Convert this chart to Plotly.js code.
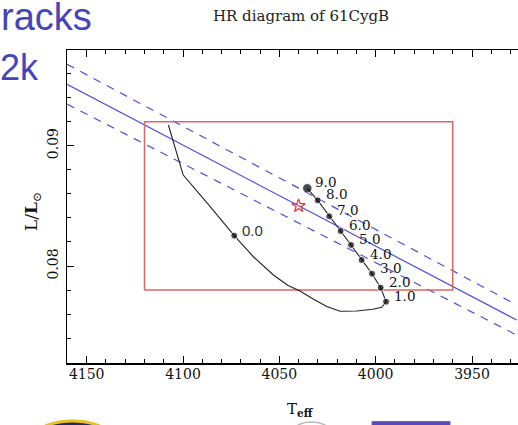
<!DOCTYPE html>
<html>
<head>
<meta charset="utf-8">
<script src="https://cdn.plot.ly/plotly-3.0.1.min.js"></script>
<style>html,body{margin:0;padding:0;background:#fff;overflow:hidden}#chart{width:518px;height:425px}</style>
</head>
<body>
<div id="chart"></div>
<script>
// ---- data ----
var trackT = [4107.6, 4099.9, 4087.0, 4073.4, 4063.5, 4053.1, 4045.5, 4039.3, 4032.4, 4025.4, 4018.5, 4009.9, 4001.4, 3996.9, 3994.6,
              3997.4, 4001.9, 4007.3, 4012.8, 4018.2, 4024.1, 4030.1, 4035.5];
var trackL = [0.09172, 0.08756, 0.08515, 0.08252, 0.08077, 0.07925, 0.07838, 0.07792, 0.07726, 0.07663, 0.07624, 0.07626, 0.07640, 0.07657, 0.07703,
              0.07820, 0.07936, 0.08050, 0.08175, 0.08291, 0.08413, 0.08546, 0.08646];
var ageLabels = ["0.0", "1.0", "2.0", "3.0", "4.0", "5.0", "6.0", "7.0", "8.0", "9.0"];
var ageT = [4073.4, 3994.6, 3997.4, 4001.9, 4007.3, 4012.8, 4018.2, 4024.1, 4030.1, 4035.5];
var ageL = [0.08252, 0.07703, 0.07820, 0.07936, 0.08050, 0.08175, 0.08291, 0.08413, 0.08546, 0.08646];
var starT = [4040];
var starL = [0.085];
var boxT = [4120, 3960];
var boxL = [0.078, 0.092];
var lineT = [4160.2, 3926.8];
var radiusL = [0.09510, 0.07551];
var radiusUpperL = [0.09677, 0.07676];
var radiusLowerL = [0.09346, 0.07426];
var xTicks = [4150, 4100, 4050, 4000, 3950];
var yTicks = [0.08, 0.09];
var titleText = "HR diagram of 61CygB";
var slideLines = ["racks", "2k"];

// ---- helpers (pixel -> paper) ----
var L0 = 67, W = 451, T0 = 50, H = 313;
function px(p){ return (p - L0) / W; }
function py(p){ return (T0 + H - p) / H; }

var blue = '#4f4fdc';
var traces = [
  {x: lineT, y: radiusUpperL, mode: 'lines', line: {color: blue, width: 1.2, dash: '8px,7px'}, hoverinfo: 'skip'},
  {x: lineT, y: radiusL, mode: 'lines', line: {color: blue, width: 1.2}, hoverinfo: 'skip'},
  {x: lineT, y: radiusLowerL, mode: 'lines', line: {color: blue, width: 1.2, dash: '8px,7px'}, hoverinfo: 'skip'},
  {x: [boxT[0], boxT[1], boxT[1], boxT[0], boxT[0]], y: [boxL[0], boxL[0], boxL[1], boxL[1], boxL[0]],
   mode: 'lines', line: {color: '#e06464', width: 1.5}, hoverinfo: 'skip'},
  {x: trackT, y: trackL, mode: 'lines', line: {color: '#222', width: 1.1}, hoverinfo: 'skip'},
  {x: ageT, y: ageL, mode: 'markers',
   marker: {color: '#000', size: ageLabels.map(function(a){ return a === '9.0' ? 9.5 : 7; })}, hoverinfo: 'skip'},
  {x: starT, y: starL, mode: 'markers', marker: {symbol: 'star-open', color: '#ff2a2a', size: 10, line: {width: 1.2}}, hoverinfo: 'skip'}
];

var annotations = ageLabels.map(function(a, i){
  var isZero = a === '0.0';
  return {x: ageT[i], y: ageL[i], xref: 'x', yref: 'y', text: a, showarrow: false,
    xanchor: 'left', yanchor: 'middle', xshift: 7, yshift: isZero ? 5 : 6, borderpad: 0,
    font: isZero ? {family: 'Liberation Sans, Arial, sans-serif', size: 15, color: '#333'}
                 : {family: 'DejaVu Serif, serif', size: 13.5, color: '#111'}};
});
annotations.push({xref: 'paper', yref: 'paper', x: px(300), y: py(409), text: 'T<sub><b>eff</b></sub>',
  showarrow: false, xanchor: 'center', yanchor: 'middle', font: {family: 'DejaVu Serif, serif', size: 15, color: '#111'}});
annotations.push({xref: 'paper', yref: 'paper', x: px(32), y: py(212), text: 'L/<b>L</b><sub>⊙</sub>', textangle: -90,
  showarrow: false, xanchor: 'center', yanchor: 'middle', font: {family: 'DejaVu Serif, serif', size: 17, color: '#111'}});
annotations.push({xref: 'paper', yref: 'paper', x: px(93), y: py(17), text: slideLines[0], borderpad: 0,
  showarrow: false, xanchor: 'right', yanchor: 'middle', font: {family: 'Liberation Sans, Arial, sans-serif', size: 38, color: '#4444bb'}});
annotations.push({xref: 'paper', yref: 'paper', x: px(40), y: py(68), text: slideLines[1], borderpad: 0,
  showarrow: false, xanchor: 'right', yanchor: 'middle', font: {family: 'Liberation Sans, Arial, sans-serif', size: 36, color: '#4444bb'}});

var shapes = [
  {type: 'circle', xref: 'paper', yref: 'paper', x0: px(37), x1: px(108), y0: py(450), y1: py(421),
   fillcolor: '#1c2a6e', line: {color: '#e8c020', width: 3}},
  {type: 'circle', xref: 'paper', yref: 'paper', x0: px(290), x1: px(333), y0: py(450), y1: py(422),
   fillcolor: '#ffffff', line: {color: '#bbbbbb', width: 1.5}},
  {type: 'rect', xref: 'paper', yref: 'paper', x0: px(372), x1: px(450), y0: py(440), y1: py(421.5),
   fillcolor: '#5a48b8', line: {color: '#7060c8', width: 1}}
];

var axisFont = {family: 'DejaVu Serif, serif', size: 14, color: '#111'};
var layout = {
  width: 518, height: 425,
  margin: {l: 67, r: 0, t: 50, b: 62},
  paper_bgcolor: '#fff', plot_bgcolor: '#fff',
  showlegend: false,
  title: {text: titleText, xref: 'container', yref: 'container', x: 301/518, y: 1 - 16/425,
          xanchor: 'center', yanchor: 'middle', font: {family: 'DejaVu Serif, serif', size: 15, color: '#222'}},
  xaxis: {range: [4160.23, 3926.12], tickvals: xTicks, ticks: 'inside', ticklen: 7, tickwidth: 1, tickcolor: '#000',
          showline: true, linecolor: '#000', linewidth: 1.5, mirror: 'allticks', showgrid: false, zeroline: false,
          minor: {dtick: 10, tick0: 4000, ticks: 'inside', ticklen: 4, tickcolor: '#000', tickwidth: 1, showgrid: false},
          tickfont: axisFont, ticklabelstandoff: -2},
  yaxis: {range: [0.071937, 0.097955], tickvals: yTicks, tickformat: '.2f', ticks: 'inside', ticklen: 7, tickwidth: 1, tickcolor: '#000',
          showline: true, linecolor: '#000', linewidth: 1.5, mirror: false, showgrid: false, zeroline: false,
          minor: {dtick: 0.002, tick0: 0.08, ticks: 'inside', ticklen: 4, tickcolor: '#000', tickwidth: 1, showgrid: false},
          tickangle: -90, tickfont: axisFont, ticklabelstandoff: 2},
  annotations: annotations,
  shapes: shapes
};

Plotly.newPlot('chart', traces, layout, {staticPlot: true, displayModeBar: false});
</script>
</body>
</html>
